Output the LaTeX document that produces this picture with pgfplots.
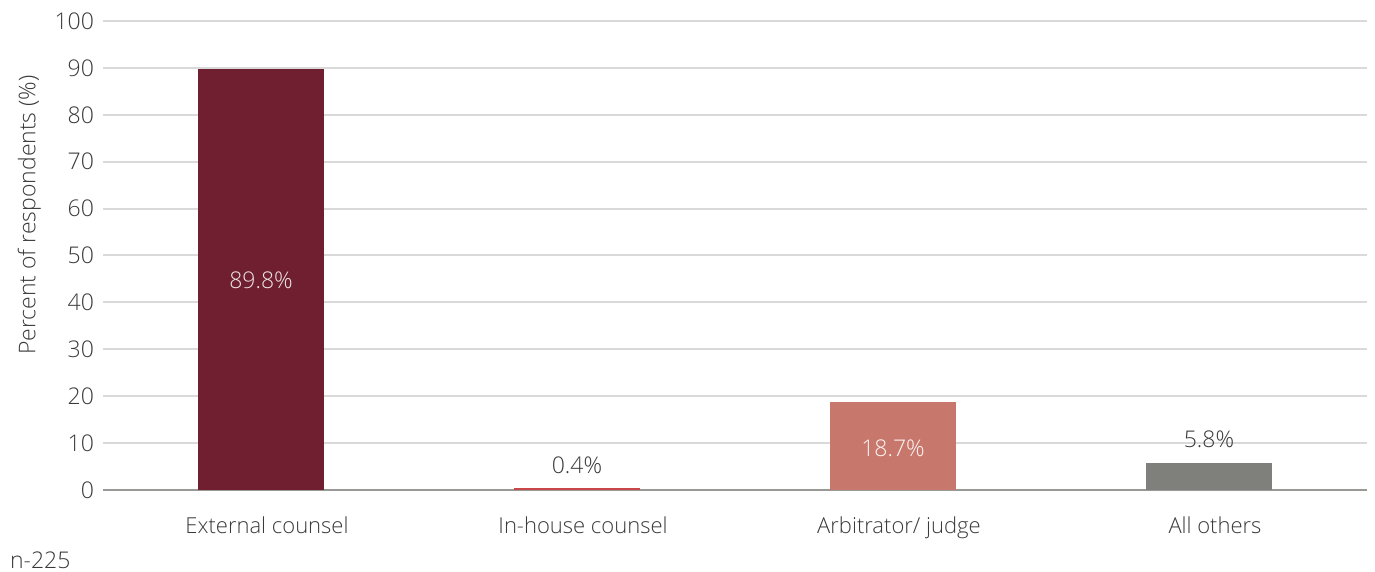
\documentclass[border=0pt]{standalone}
\usepackage{pgfplots}
\pgfplotsset{compat=1.18}
\usepackage{fontspec}
\setmainfont{Open Sans}[UprightFont={* Light}]
\definecolor{txt}{HTML}{3A3A3A}
\definecolor{c1}{HTML}{6F1F2F}
\definecolor{c2}{HTML}{C8484A}
\definecolor{c3}{HTML}{C8776C}
\definecolor{c4}{HTML}{7F807C}
\definecolor{gridc}{HTML}{D9D9D9}
\begin{document}
\begin{tikzpicture}
\path[use as bounding box] (-51.5pt,-41pt) rectangle (636pt,245pt);
\begin{axis}[
  scale only axis, width=632pt, height=234.5pt,
  xmin=-0.5, xmax=3.5, ymin=0, ymax=100,
  ytick={0,10,...,100},
  xtick={0,1,2,3},
  xticklabels={External counsel, In-house counsel, Arbitrator/ judge, All others},
  axis x line*=bottom, axis y line*=left,
  y axis line style={draw=none},
  x axis line style={draw=c4!80, line width=1pt},
  major tick length=0pt,
  ymajorgrids, grid style={gridc, line width=1pt},
  tick label style={font=\fontsize{11.5}{13}\selectfont, text=txt},
  /pgf/number format/assume math mode=true,
  yticklabel style={xshift=-1pt},
  xticklabel style={yshift=-10pt, xshift=3pt, font=\fontsize{11}{13}\selectfont},
  ylabel={Percent of respondents (\%)},
  ylabel style={at={(ticklabel cs:0.586)}, font=\fontsize{11.5}{13}\selectfont, text=txt, yshift=0pt},
  bar width=0.4, ybar, bar shift=0pt,
  clip=false,
]
\addplot[fill=c1, draw=none] coordinates {(0,89.8)};
\addplot[fill=c2, draw=none] coordinates {(1,0.4)};
\addplot[fill=c3, draw=none] coordinates {(2,18.7)};
\addplot[fill=c4, draw=none] coordinates {(3,5.8)};
\node[text=white!88!c1, font=\fontsize{11.5}{13}\selectfont] at (axis cs:0,44.8) {89.8\%};
\node[text=txt, font=\fontsize{11.5}{13}\selectfont] at (axis cs:1,5.3) {0.4\%};
\node[text=white!92!c3, font=\fontsize{11.5}{13}\selectfont] at (axis cs:2,9.0) {18.7\%};
\node[text=txt, font=\fontsize{11.5}{13}\selectfont] at (axis cs:3,10.8) {5.8\%};
\end{axis}
\node[anchor=west, text=txt, font=\fontsize{11.5}{13}\selectfont] at (-50pt,-35pt) {n-225};
\end{tikzpicture}
\end{document}
